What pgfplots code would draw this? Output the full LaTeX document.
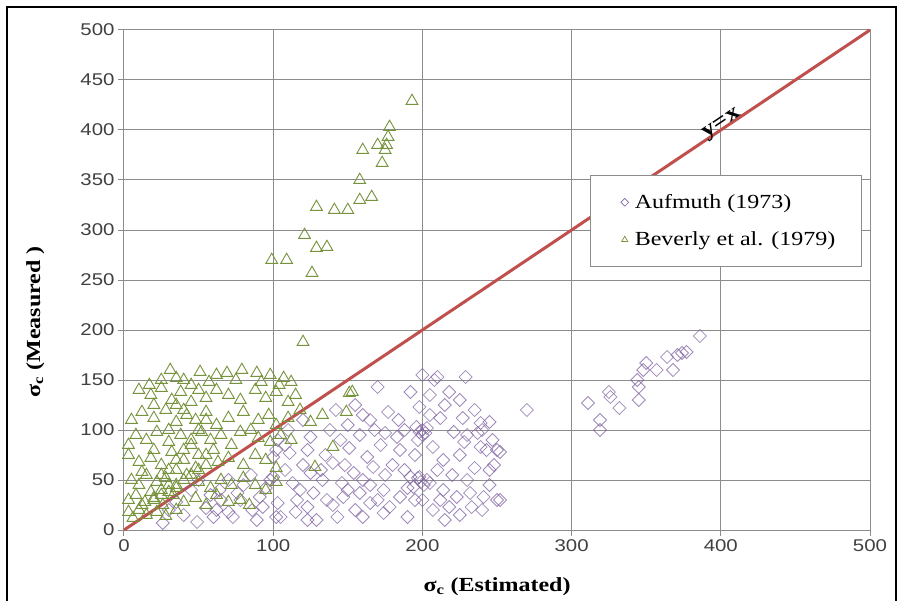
\documentclass[border=0pt]{standalone}
\usepackage{pgfplots}
\pgfplotsset{compat=1.18}
\usepackage{fontspec}
\setmainfont{Liberation Serif}[FakeStretch=1.2]
\newfontfamily\tickfont{Liberation Sans}[FakeStretch=1.2]
\definecolor{aufcol}{RGB}{128,100,162}
\definecolor{bevcol}{RGB}{119,147,60}
\definecolor{linecol}{RGB}{192,80,77}
\definecolor{gridcol}{RGB}{140,140,140}
\begin{document}
\begin{tikzpicture}
\useasboundingbox (-124pt,-70pt) rectangle (777pt,530pt);
\fill[white] (-124pt,-70pt) rectangle (777pt,530pt);
\draw[black, line width=2pt] (-117pt,-72pt) -- (-117pt,523pt) -- (772pt,523pt) -- (772pt,-72pt);
\begin{axis}[
  at={(0pt,0pt)}, anchor=south west,
  scale only axis, width=746pt, height=500pt,
  xmin=0, xmax=500, ymin=0, ymax=500,
  xtick={0,100,...,500}, ytick={0,50,...,500},
  grid=major, grid style={gridcol, line width=1pt},
  axis line style={gridcol, line width=1pt},
  tick style={gridcol, line width=1pt},
  tick align=outside, major tick length=6pt,
  xtick pos=left, ytick pos=left,
  ticklabel style={font=\tickfont\fontsize{17}{17}\selectfont, text=black!75},
  /pgf/number format/assume math mode=true,
  xlabel={σ\textsubscript{c} (Estimated)},
  ylabel={σ\textsubscript{c} (Measured )},
  label style={font=\bfseries\fontsize{20}{20}\selectfont},
  xlabel style={at={(axis description cs:0.5,-0.114)}, anchor=center},
  ylabel style={at={(axis description cs:-0.119,0.416)}, anchor=center},
  legend style={at={(axis description cs:0.625,0.71)}, anchor=north west,
    draw=gridcol, line width=1pt, fill=white, font=\fontsize{20}{20}\selectfont,
    inner xsep=24pt, inner ysep=17pt, row sep=18pt},
  legend cell align=left,
  legend image code/.code={\path[draw=none,fill=none] (-10pt,0pt) (8pt,0pt); \draw[#1] plot coordinates {(0pt,0pt)};},
]
\addplot[only marks, forget plot, mark=square, mark size=4.6pt,
  mark options={rotate=45, draw=aufcol, draw opacity=0.75, line width=0.8pt}]
  table[row sep=\\] {
x y\\
26 7\\ 49 8\\ 60 13\\ 40 15\\ 55 22\\ 35 28\\ 65 30\\ 45 40\\ 70 18\\ 73 13\\
62 20\\ 64 40\\ 76 37\\ 78 30\\ 86 20\\ 89 10\\ 91 33\\ 93 23\\ 98 50\\ 100 53\\
102 13\\ 103 27\\ 105 13\\ 80 45\\ 85 55\\ 70 50\\ 95 42\\ 58 35\\ 30 20\\ 50 50\\
100 73\\ 102 80\\ 103 90\\ 111 77\\ 113 47\\ 116 30\\ 123 80\\ 123 10\\ 123 23\\ 125 57\\
125 93\\ 127 37\\ 129 10\\ 120 65\\ 108 60\\ 118 40\\ 115 18\\ 110 100\\ 120 110\\ 108 85\\
133 50\\ 136 30\\ 140 67\\ 143 13\\ 146 47\\ 147 33\\ 151 82\\ 154 57\\ 158 37\\ 160 13\\
163 73\\ 165 27\\ 167 63\\ 170 143\\ 174 40\\ 174 17\\ 175 97\\ 177 118\\ 183 93\\ 184 110\\
185 80\\ 185 33\\ 190 13\\ 192 53\\ 192 138\\ 198 123\\ 138 100\\ 142 120\\ 150 105\\ 160 115\\
168 100\\ 172 85\\ 145 90\\ 135 75\\ 155 20\\ 170 30\\ 180 65\\ 188 100\\ 195 75\\ 197 90\\
165 45\\ 175 55\\ 150 40\\ 160 50\\ 140 25\\ 132 60\\ 195 30\\ 190 42\\ 148 65\\ 178 23\\
188 60\\ 158 95\\ 165 110\\ 155 125\\
200 100\\ 198 98\\ 202 97\\ 196 103\\ 200 95\\ 203 102\\ 199 48\\ 201 45\\ 197 52\\ 203 50\\
200 155\\ 208 150\\ 205 135\\ 218 138\\ 229 153\\ 210 153\\ 212 112\\ 227 112\\ 221 98\\ 240 100\\
245 108\\ 237 97\\ 239 107\\ 247 90\\ 243 80\\ 207 83\\ 225 75\\ 239 83\\ 250 80\\ 214 70\\
235 62\\ 245 60\\ 198 53\\ 194 43\\ 205 47\\ 214 40\\ 223 33\\ 232 37\\ 241 33\\ 250 30\\
207 20\\ 218 23\\ 233 23\\ 240 20\\ 252 78\\ 252 30\\ 230 50\\ 220 55\\ 210 60\\ 228 88\\
235 120\\ 205 115\\ 215 125\\ 225 130\\ 245 45\\ 215 10\\ 225 15\\ 200 30\\ 230 95\\ 248 65\\
212 30\\
270 120\\ 311 127\\ 319 110\\ 319 100\\ 325 138\\ 326 133\\ 332 122\\ 344 150\\ 345 143\\ 345 130\\
348 160\\ 350 167\\ 357 160\\ 364 173\\ 368 160\\ 371 175\\ 374 177\\ 377 178\\ 386 194\\
};
\addplot[only marks, forget plot, mark=triangle, mark size=6.8pt,
  mark options={draw=bevcol, line width=0.9pt}]
  table[row sep=\\] {
x y\\
193 429\\ 178 403\\ 177 393\\ 176 385\\ 175 380\\ 170 385\\ 160 380\\ 173 367\\ 158 350\\ 166 333\\
158 330\\ 150 320\\ 141 320\\ 129 323\\ 121 295\\ 136 283\\ 129 282\\ 109 270\\ 99 270\\ 126 257\\
120 188\\
17 145\\ 25 150\\ 31 160\\ 40 150\\ 45 145\\ 51 158\\ 57 148\\ 62 155\\ 69 157\\ 75 150\\
79 160\\ 89 157\\ 92 148\\ 98 155\\ 104 145\\ 107 152\\ 112 148\\ 35 152\\
10 140\\ 18 135\\ 25 142\\ 32 130\\ 38 138\\ 45 128\\ 50 140\\ 55 132\\ 62 140\\ 70 135\\
78 130\\ 88 140\\ 95 132\\ 102 138\\ 110 128\\ 115 135\\ 20 125\\ 40 120\\ 35 125\\
5 110\\ 12 118\\ 20 112\\ 28 120\\ 35 108\\ 42 115\\ 48 110\\ 55 118\\ 62 105\\ 70 112\\
80 118\\ 90 110\\ 97 115\\ 102 105\\ 110 112\\ 118 120\\ 125 108\\ 133 115\\ 149 118\\ 151 137\\
153 138\\ 30 100\\ 85 100\\ 50 100\\ 55 110\\
3 85\\ 8 95\\ 15 90\\ 22 98\\ 30 88\\ 38 95\\ 45 85\\ 52 98\\ 58 90\\ 65 95\\
72 85\\ 78 98\\ 90 92\\ 98 88\\ 105 95\\ 112 90\\ 140 83\\ 60 80\\ 20 80\\ 40 80\\ 45 90\\
3 75\\ 10 68\\ 18 72\\ 25 65\\ 32 78\\ 40 70\\ 48 62\\ 55 75\\ 63 68\\ 70 72\\
80 65\\ 88 75\\ 95 70\\ 102 62\\ 128 63\\ 35 60\\ 30 60\\ 35 70\\ 50 75\\ 55 65\\ 25 55\\ 12 58\\
5 50\\ 10 45\\ 15 55\\ 22 48\\ 28 52\\ 35 42\\ 42 55\\ 50 48\\ 58 42\\ 65 50\\
72 45\\ 80 52\\ 88 45\\ 95 40\\ 102 48\\ 25 40\\ 30 45\\ 35 45\\ 40 50\\ 45 55\\ 50 60\\
3 30\\ 8 35\\ 14 28\\ 20 32\\ 26 25\\ 33 35\\ 40 28\\ 48 32\\ 55 25\\ 62 35\\
70 28\\ 78 30\\ 84 25\\ 18 38\\ 20 30\\ 25 35\\ 30 38\\
3 18\\ 6 12\\ 10 20\\ 15 15\\ 22 18\\ 28 14\\ 35 20\\ 12 25\\
};
\addplot[forget plot, linecol, line width=3pt] coordinates {(0,0) (500,500)};
\node[rotate=33.8, anchor=base, inner sep=0pt, font=\bfseries\fontsize{22}{22}\selectfont]
  at (axis cs:402,403) {y=x};
\addlegendimage{only marks, mark=square, mark size=2.8pt, mark options={rotate=45, draw=aufcol, line width=0.7pt}}
\addlegendentry{Aufmuth (1973)}
\addlegendimage{only marks, mark=triangle, mark size=3.5pt, mark options={draw=bevcol, line width=0.7pt}}
\addlegendentry{Beverly et al. (1979)}
\end{axis}
\end{tikzpicture}
\end{document}
